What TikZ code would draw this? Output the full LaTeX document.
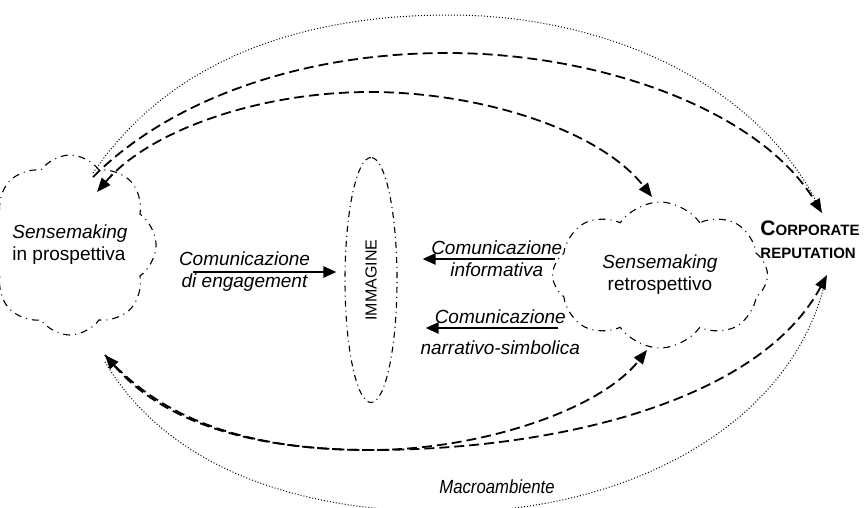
\documentclass[tikz,border=0pt]{standalone}
\usepackage{fontspec}
\usepackage{graphicx}
\setmainfont{Liberation Sans}
\usetikzlibrary{shapes.geometric,shapes.symbols,arrows.meta,calc}

\begin{document}
\begin{tikzpicture}[x=1pt, y=-1pt,
    font=\fontsize{19}{22}\selectfont,
    sense/.style={cloud, cloud puffs=8, cloud puff arc=110, cloud ignores aspect, draw, line width=1.1pt, dash pattern=on 7pt off 5pt on 1pt off 5pt, align=center},
    imgbox/.style={ellipse, draw, line width=1.1pt, dash pattern=on 6pt off 4pt on 1pt off 4pt, minimum width=245pt, minimum height=52pt, inner sep=0pt, font=\fontsize{16}{18}\selectfont},
    lbl/.style={font=\itshape\fontsize{19}{22}\selectfont},
    comm/.style={->, >={Triangle[length=13pt,width=11pt]}, line width=2.4pt},
    flow/.style={>={Triangle[length=14pt,width=11pt]}, line width=1.8pt, dash pattern=on 10pt off 5pt},
    envline/.style={line width=1pt, dash pattern=on 1pt off 2pt}]

    \useasboundingbox (0,0) rectangle (866,507);

    \node[sense, minimum width=170pt, minimum height=180pt, align=left] (prosp) at (70,245) {\textit{Sensemaking}\\in prospettiva};
    \node[sense, minimum width=215pt, minimum height=146pt] (retro) at (660,275) {\textit{Sensemaking}\\retrospettivo};
    \node[imgbox, rotate=90] (imm) at (371,280) {IMMAGINE};
    \node[align=left, font=\bfseries\fontsize{15}{23}\selectfont] (corp) at (810,240) {{\fontsize{21}{23}\selectfont C}ORPORATE\\REPUTATION};
    \node[lbl] (macro) at (497,487) {\scalebox{0.88}[1]{Macroambiente}};
    \coordinate (engstart) at (193,272);
    \coordinate (infostart) at ($(retro)+(-105,-16)$);
    \coordinate (narrstart) at ($(retro)+(-102,53)$);

    % comunicazione verso l'immagine
    \draw[comm, shorten >=8pt] (engstart) -- node[lbl, pos=0.34, align=center] {Comunicazione\\di engagement} (engstart -| imm.north);
    \draw[comm, shorten >=25pt] (infostart) -- node[lbl, pos=0.37, align=center] {Comunicazione\\informativa} (infostart -| imm.south);
    \draw[comm, shorten >=28pt] (narrstart) -- node[lbl, pos=0.36, above] {Comunicazione} node[lbl, pos=0.36, below, yshift=-8pt] {narrativo-simbolica} (narrstart -| imm.south);

    % archi superiori
    \draw[envline] ($(prosp)+(23,-72)$) .. controls (170,60) and (300,15) .. (450,15) .. controls (600,15) and (760,80) .. ($(corp)+(12,-27)$);
    \draw[flow, ->] ($(prosp)+(23,-68)$) .. controls (170,100) and (300,53) .. (447,53) .. controls (600,53) and (760,110) .. ($(corp)+(12,-27)$);
    \draw[flow, <->] ($(prosp)+(27,-53)$) .. controls (150,130) and (260,92) .. (370,92) .. controls (480,92) and (600,130) .. ($(retro)+(-8,-78)$);

    % archi inferiori
    \draw[flow, <->] ($(prosp)+(35,110)$) .. controls (170,430) and (270,450) .. (370,450) .. controls (480,450) and (600,410) .. ($(retro)+(-13,75)$);
    \draw[flow, ->] ($(prosp)+(35,110)$) .. controls (170,430) and (270,450) .. (370,450) .. controls (560,450) and (760,400) .. ($(corp)+(17,35)$);
    \draw[envline] ($(prosp)+(35,117)$) .. controls (170,470) and (300,512) .. (450,512) .. controls (620,512) and (790,430) .. ($(corp)+(15,42)$);
\end{tikzpicture}
\end{document}
